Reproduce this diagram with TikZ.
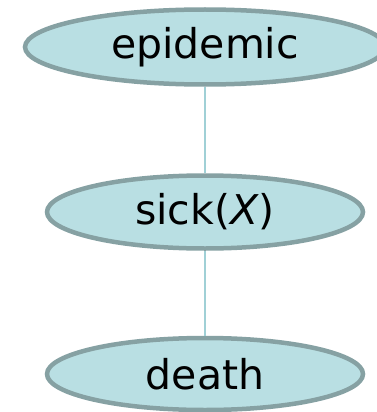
\documentclass[tikz,border=0pt]{standalone}
\usepackage{fontspec}
\setmainfont{DejaVu Sans}
\usetikzlibrary{shapes.geometric}
\definecolor{nodefill}{HTML}{B9DFE3}
\definecolor{nodeedge}{HTML}{86A1A3}
\definecolor{linkcol}{HTML}{A0D0D6}
\tikzset{
  event/.style={ellipse, draw=nodeedge, fill=nodefill, line width=4.5pt,
    inner sep=0pt, font=\fontsize{41}{49}\selectfont},
  link/.style={draw=linkcol, line width=1.2pt}
}
\begin{document}
\begin{tikzpicture}[x=1pt,y=-1pt]
  \useasboundingbox (0,0) rectangle (377,412);
  \node[event, minimum width=360pt, minimum height=75pt] (epi) at (205,47) {epidemic};
  \node[event, minimum width=316pt, minimum height=73pt] (sick) at (205,212) {sick(\textit{X})};
  \node[event, minimum width=316pt, minimum height=72pt] (death) at (205,374) {death};
  \draw[link] (epi.south) -- (sick.north);
  \draw[link] (sick.south) -- (death.north);
\end{tikzpicture}
\end{document}
